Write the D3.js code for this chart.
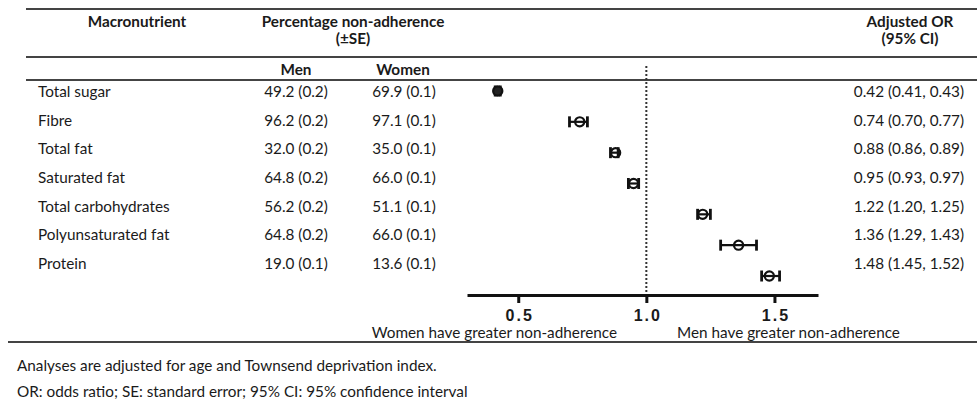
<!DOCTYPE html>
<html>
<head>
<meta charset="utf-8">
<script src="https://cdn.jsdelivr.net/npm/d3@7"></script>
<style>
body { margin: 0; background: #fff; }
text { font-family: Lato, "Open Sans", sans-serif; fill: #1a1a1a; }
</style>
</head>
<body>
<script>
const w = 977;
const h = 409;

// data
const nutrients = ['Total sugar', 'Fibre', 'Total fat', 'Saturated fat', 'Total carbohydrates', 'Polyunsaturated fat', 'Protein'];
const menPct = ['49.2 (0.2)', '96.2 (0.2)', '32.0 (0.2)', '64.8 (0.2)', '56.2 (0.2)', '64.8 (0.2)', '19.0 (0.1)'];
const womenPct = ['69.9 (0.1)', '97.1 (0.1)', '35.0 (0.1)', '66.0 (0.1)', '51.1 (0.1)', '66.0 (0.1)', '13.6 (0.1)'];
const orValue = [0.42, 0.74, 0.88, 0.95, 1.22, 1.36, 1.48];
const orLow = [0.41, 0.70, 0.86, 0.93, 1.20, 1.29, 1.45];
const orHigh = [0.43, 0.77, 0.89, 0.97, 1.25, 1.43, 1.52];
const xTicks = [0.5, 1.0, 1.5];

const rows = nutrients.map((n, i) => ({
  name: n, men: menPct[i], women: womenPct[i],
  or: orValue[i], lo: orLow[i], hi: orHigh[i]
}));

const fs = '15.3px';
const svg = d3.select('body').append('svg').attr('width', w).attr('height', h);

const x = d3.scaleLinear().domain([0.3, 1.67]).range([467, 818]);
const yText = d3.scalePoint().domain(nutrients).range([91, 263]);
const yMark = d3.scalePoint().domain(nutrients).range([91, 276]);

// rules
const rule = (y, x0) => svg.append('line').attr('x1', x0).attr('x2', w).attr('y1', y).attr('y2', y)
  .attr('stroke', '#444').attr('stroke-width', 2);
rule(9, 26); rule(57, 26); rule(80, 26); rule(342, 8);

// headers
const head = (t, xx, yy) => svg.append('text').attr('x', xx).attr('y', yy).attr('text-anchor', 'middle')
  .attr('dominant-baseline', 'central').style('font-weight', 700).style('font-size', fs).text(t);
head('Macronutrient', 137, 21);
head('Percentage non-adherence', 353, 21);
head('(±SE)', 353, 38);
head('Men', 296, 69);
head('Women', 403, 69);
head('Adjusted OR', 910, 21);
head('(95% CI)', 910, 38);

// table text
const cell = (acc, xx, anchor) => svg.append('g').selectAll('text').data(rows).join('text')
  .attr('x', xx).attr('y', d => yText(d.name)).attr('text-anchor', anchor)
  .attr('dominant-baseline', 'central').style('font-size', fs).text(acc);
cell(d => d.name, 38, 'start');
cell(d => d.men, 296, 'middle');
cell(d => d.women, 404, 'middle');
cell(d => `${d.or.toFixed(2)} (${d.lo.toFixed(2)}, ${d.hi.toFixed(2)})`, 964, 'end');

// reference line
svg.append('line').attr('x1', x(1)).attr('x2', x(1)).attr('y1', 66).attr('y2', 295)
  .attr('stroke', '#333').attr('stroke-width', 2).attr('stroke-dasharray', '2,2');

// markers
const m = svg.append('g').selectAll('g').data(rows).join('g')
  .attr('transform', d => `translate(0,${yMark(d.name)})`);
m.append('line').attr('x1', d => x(d.lo)).attr('x2', d => x(d.hi)).attr('stroke', '#111').attr('stroke-width', 2.2);
m.append('line').attr('x1', d => x(d.lo)).attr('x2', d => x(d.lo)).attr('y1', -5.5).attr('y2', 5.5)
  .attr('stroke', '#111').attr('stroke-width', 2.8);
m.append('line').attr('x1', d => x(d.hi)).attr('x2', d => x(d.hi)).attr('y1', -5.5).attr('y2', 5.5)
  .attr('stroke', '#111').attr('stroke-width', 2.8);
m.append('circle').attr('cx', d => x(d.or)).attr('r', 4.6)
  .attr('fill', d => (x(d.hi) - x(d.lo) < 7) ? '#222' : 'none')
  .attr('stroke', '#111').attr('stroke-width', 2.2);

// axis
const axis = svg.append('g').attr('transform', 'translate(0,295)')
  .call(d3.axisBottom(x).tickValues(xTicks).tickFormat(d3.format('.1f')).tickSizeInner(8).tickSizeOuter(0));
axis.select('.domain').attr('stroke', '#111').attr('stroke-width', 3);
axis.selectAll('.tick line').attr('stroke', '#111').attr('stroke-width', 3);
axis.selectAll('.tick text').attr('y', 15).attr('dx', '1px').style('font-family', 'Arial, "Liberation Sans", sans-serif')
  .style('font-weight', 700).style('font-size', '16px').style('letter-spacing', '2px').attr('fill', '#1a1a1a');

svg.append('text').attr('x', 617).attr('y', 332).attr('text-anchor', 'end').attr('dominant-baseline', 'central')
  .style('font-size', fs).text('Women have greater non-adherence');
svg.append('text').attr('x', 677).attr('y', 332).attr('dominant-baseline', 'central')
  .style('font-size', fs).text('Men have greater non-adherence');

// footnotes
svg.append('text').attr('x', 17).attr('y', 365).attr('dominant-baseline', 'central')
  .style('font-size', fs).text('Analyses are adjusted for age and Townsend deprivation index.');
svg.append('text').attr('x', 17).attr('y', 391).attr('dominant-baseline', 'central')
  .style('font-size', fs).text('OR: odds ratio; SE: standard error; 95% CI: 95% confidence interval');
</script>
</body>
</html>
